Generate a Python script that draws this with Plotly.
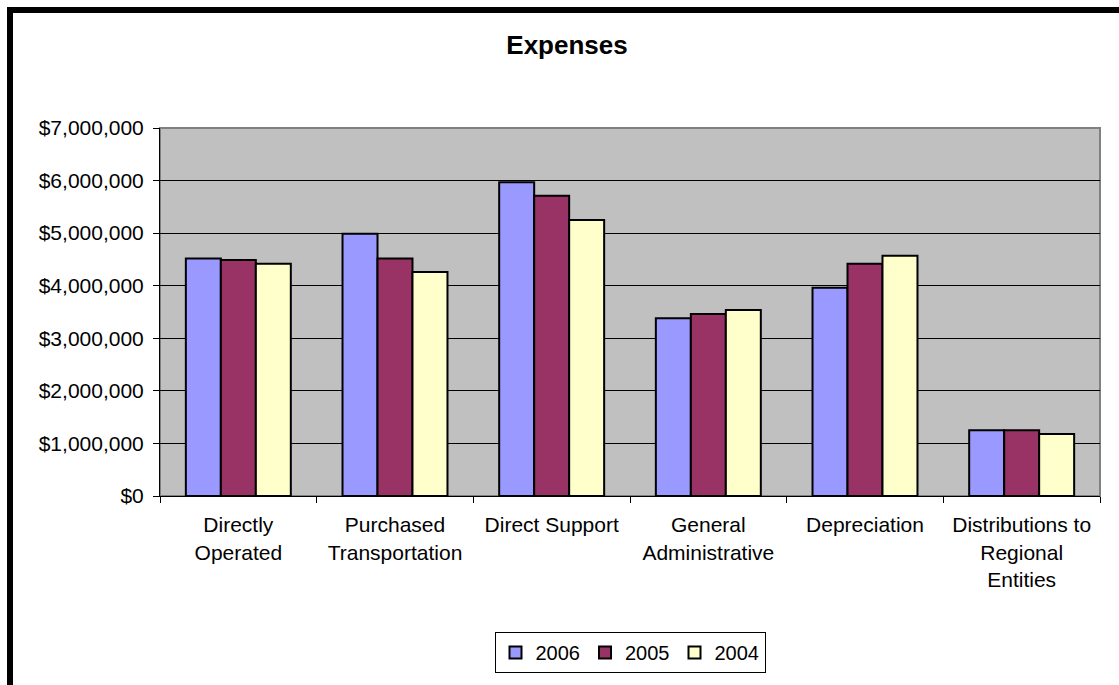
import plotly.graph_objects as go

categories = [
    "Directly<br>Operated",
    "Purchased<br>Transportation",
    "Direct Support",
    "General<br>Administrative",
    "Depreciation",
    "Distributions to<br>Regional<br>Entities",
]
exp_2006 = [4520000, 4990000, 5970000, 3380000, 3960000, 1250000]
exp_2005 = [4490000, 4520000, 5710000, 3460000, 4420000, 1250000]
exp_2004 = [4420000, 4260000, 5250000, 3540000, 4570000, 1180000]

series = [
    ("2006", exp_2006, "#9999FF"),
    ("2005", exp_2005, "#993366"),
    ("2004", exp_2004, "#FFFFCC"),
]

W, H = 1119, 685
L, R, T, B = 160, 19, 128, 189
pw, ph = W - L - R, H - T - B

def px_x(px):
    return (px - L) / pw

def px_y(py):
    return (H - B - py) / ph

font = "Liberation Sans, Arial, sans-serif"

fig = go.Figure()
for name, vals, color in series:
    fig.add_trace(go.Bar(
        x=categories, y=vals, name=name,
        marker=dict(color=color, line=dict(color="#000000", width=2)),
    ))

fig.update_layout(
    width=W, height=H,
    margin=dict(l=L, r=R, t=T, b=B, autoexpand=False),
    paper_bgcolor="white",
    plot_bgcolor="#C0C0C0",
    barmode="group",
    bargap=0.33,
    bargroupgap=0,
    font=dict(family=font, size=21, color="#000000"),
    title=dict(
        text="<b>Expenses</b>",
        font=dict(family=font, size=26, color="#000000"),
        x=567 / W, xref="container", xanchor="center",
        y=1 - 45 / H, yref="container", yanchor="middle",
    ),
    showlegend=True,
    legend=dict(
        orientation="h",
        x=0.5, xanchor="center",
        y=px_y(632), yanchor="top",
        bgcolor="white",
        bordercolor="#000000", borderwidth=1,
        font=dict(family=font, size=20),
        traceorder="normal",
        itemwidth=30,
    ),
    xaxis=dict(
        showline=True, linecolor="#000000", linewidth=1,
        ticks="outside", ticklen=6, tickcolor="#000000",
        tickson="boundaries",
        showgrid=False,
        ticklabelstandoff=10,
        fixedrange=True,
    ),
    yaxis=dict(
        range=[0, 7000000],
        dtick=1000000,
        tickformat="$,.0f",
        showline=True, linecolor="#000000", linewidth=1,
        ticks="outside", ticklen=6, tickcolor="#000000",
        showgrid=True, gridcolor="#000000", gridwidth=1,
        zeroline=False,
        ticklabelstandoff=5,
        fixedrange=True,
    ),
    shapes=[
        # plot area outline
        dict(type="rect", xref="paper", yref="paper", x0=0, x1=1, y0=0, y1=1,
             line=dict(color="#808080", width=2), layer="below"),
        # outer chart frame
        dict(type="rect", xref="paper", yref="paper",
             x0=px_x(10), x1=px_x(1140), y0=px_y(10), y1=px_y(710),
             line=dict(color="#000000", width=6)),
    ],
)

fig.write_html("out.html")
